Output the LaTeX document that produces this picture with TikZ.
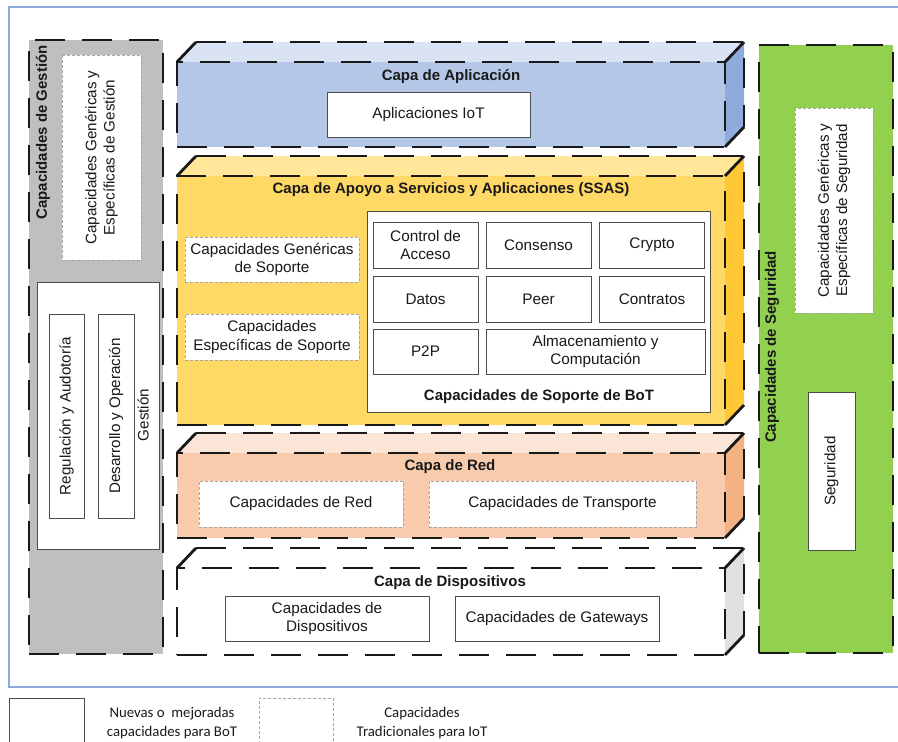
\documentclass[tikz,border=0pt]{standalone}
\usepackage{fontspec}
\setmainfont{Liberation Sans}
\newfontfamily\leyenda{Carlito}
\usetikzlibrary{backgrounds}
\definecolor{appfront}{HTML}{B4C7E7}
\definecolor{apptop}{HTML}{DAE3F3}
\definecolor{appside}{HTML}{8FAADC}
\definecolor{ssasfront}{HTML}{FFD966}
\definecolor{ssastop}{HTML}{FFE699}
\definecolor{ssasside}{HTML}{FFC935}
\definecolor{redfront}{HTML}{F8CBAD}
\definecolor{redtop}{HTML}{FBE5D6}
\definecolor{redside}{HTML}{F4B183}
\definecolor{dispside}{HTML}{E0E0E0}
\definecolor{gris}{HTML}{BFBFBF}
\definecolor{verde}{HTML}{92D050}
\definecolor{marcoazul}{HTML}{8EA9DB}
\tikzset{
    capa/.style={
        draw=black!90,
        line width=2.8pt,
        dash pattern=on 30pt off 17pt,
        outer sep=0pt},
    arista/.style={
        draw=black!90,
        line width=2.8pt},
    atras/.style={shift={(19,-20)}},
    caja/.style={
        draw=black!70,
        line width=0.9pt,
        fill=white,
        align=center,
        inner sep=2pt,
        text=black!90,
        font=\fontsize{15.3}{18.5}\selectfont},
    cajatrad/.style={
        caja,
        draw=black!35,
        line width=0.8pt,
        dash pattern=on 3pt off 2pt},
    textov/.style={
        rotate=90,
        align=center,
        text=black!90,
        font=\fontsize{15.2}{18.3}\selectfont},
    titulo/.style={
        text=black!90,
        font=\fontsize{15}{18}\selectfont\bfseries},
    leyendatxt/.style={
        align=center,
        text=black!90,
        font=\leyenda\fontsize{14.8}{18.5}\selectfont},
    marco/.style={
        draw=marcoazul,
        line width=1.2pt}}

\begin{document}
\begin{tikzpicture}[x=1pt, y=-1pt]
    \useasboundingbox (0,0) rectangle (898,742);
    \node[marco, minimum width=910pt, minimum height=680pt] (marco) at (464,347) {};

    % columna de gestion
    \node[capa, fill=gris, minimum width=134pt, minimum height=614pt] (gestion) at (96,347) {};
    \node[titulo, rotate=90, anchor=east, inner sep=0pt] (tgestion) at (43,45) {Capacidades de Gestión};
    \node[cajatrad, textov, minimum width=205pt, minimum height=79pt] (gengestion) at (101.5,157.5) {Capacidades Genéricas y\\Específicas de Gestión};
    \node[caja, minimum width=122pt, minimum height=267pt] (opgestion) at (98,415.5) {};
    \node[caja, textov, minimum width=204pt, minimum height=35pt] (regulacion) at (66.5,416) {Regulación y Audotoría};
    \node[caja, textov, minimum width=204pt, minimum height=36pt] (desarrollo) at (116,416) {Desarrollo y Operación};
    \node[textov] (tgestion2) at (143,415) {Gestión};

    % capa de aplicacion
    \node[capa, fill=appfront, minimum width=548pt, minimum height=85pt] (aplicacion) at (451,104.5) {};
    \begin{scope}[on background layer]
        \fill[apptop] (aplicacion.north west) -- ([atras]aplicacion.north west) -- ([atras]aplicacion.north east) -- (aplicacion.north east) -- cycle;
        \fill[appside] (aplicacion.north east) -- ([atras]aplicacion.north east) -- ([atras]aplicacion.south east) -- (aplicacion.south east) -- cycle;
    \end{scope}
    \draw[capa] ([atras]aplicacion.north west) -- ([atras]aplicacion.north east) -- ([atras]aplicacion.south east);
    \draw[arista] (aplicacion.north west) -- ([atras]aplicacion.north west) (aplicacion.north east) -- ([atras]aplicacion.north east) (aplicacion.south east) -- ([atras]aplicacion.south east);
    \node[titulo] (taplicacion) at (451,77) {Capa de Aplicación};
    \node[caja, minimum width=203pt, minimum height=45pt] (apps) at (428.5,114.5) {Aplicaciones IoT};

    % capa SSAS
    \node[capa, fill=ssasfront, minimum width=548pt, minimum height=249pt] (apoyo) at (451,300.5) {};
    \begin{scope}[on background layer]
        \fill[ssastop] (apoyo.north west) -- ([atras]apoyo.north west) -- ([atras]apoyo.north east) -- (apoyo.north east) -- cycle;
        \fill[ssasside] (apoyo.north east) -- ([atras]apoyo.north east) -- ([atras]apoyo.south east) -- (apoyo.south east) -- cycle;
    \end{scope}
    \draw[capa] ([atras]apoyo.north west) -- ([atras]apoyo.north east) -- ([atras]apoyo.south east);
    \draw[arista] (apoyo.north west) -- ([atras]apoyo.north west) (apoyo.north east) -- ([atras]apoyo.north east) (apoyo.south east) -- ([atras]apoyo.south east);
    \node[titulo] (tapoyo) at (451,190) {Capa de Apoyo a Servicios y Aplicaciones (SSAS)};
    \node[cajatrad, minimum width=174pt, minimum height=45pt] (gensoporte) at (272,259.5) {Capacidades Genéricas\\de Soporte};
    \node[cajatrad, minimum width=174pt, minimum height=46pt] (espsoporte) at (272,337) {Capacidades\\Específicas de Soporte};
    \node[caja, minimum width=343pt, minimum height=201pt] (bot) at (538.5,311.5) {};
    \node[caja, minimum width=105pt, minimum height=46pt] (acceso) at (425.5,245) {Control de\\Acceso};
    \node[caja, minimum width=105pt, minimum height=46pt] (consenso) at (538.5,245) {Consenso};
    \node[caja, minimum width=105pt, minimum height=46pt] (crypto) at (652,245) {Crypto};
    \node[caja, minimum width=105pt, minimum height=46pt] (datos) at (425.5,299) {Datos};
    \node[caja, minimum width=105pt, minimum height=46pt] (peer) at (538.5,299) {Peer};
    \node[caja, minimum width=105pt, minimum height=46pt] (contratos) at (652,299) {Contratos};
    \node[caja, minimum width=105pt, minimum height=45pt] (p2p) at (425.5,351.5) {P2P};
    \node[caja, minimum width=219pt, minimum height=45pt] (almacen) at (595.5,351.5) {Almacenamiento y\\Computación};
    \node[titulo] (tbot) at (539,397) {Capacidades de Soporte de BoT};

    % capa de red
    \node[capa, fill=redfront, minimum width=548pt, minimum height=85pt] (capared) at (451,495.5) {};
    \begin{scope}[on background layer]
        \fill[redtop] (capared.north west) -- ([atras]capared.north west) -- ([atras]capared.north east) -- (capared.north east) -- cycle;
        \fill[redside] (capared.north east) -- ([atras]capared.north east) -- ([atras]capared.south east) -- (capared.south east) -- cycle;
    \end{scope}
    \draw[capa] ([atras]capared.north west) -- ([atras]capared.north east) -- ([atras]capared.south east);
    \draw[arista] (capared.north west) -- ([atras]capared.north west) (capared.north east) -- ([atras]capared.north east) (capared.south east) -- ([atras]capared.south east);
    \node[titulo] (tred) at (450,467) {Capa de Red};
    \node[cajatrad, minimum width=204pt, minimum height=46pt] (capred) at (301,504) {Capacidades de Red};
    \node[cajatrad, minimum width=267pt, minimum height=46pt] (transporte) at (562.5,504) {Capacidades de Transporte};

    % capa de dispositivos
    \node[capa, fill=white, minimum width=548pt, minimum height=87pt] (dispositivos) at (451,611.5) {};
    \begin{scope}[on background layer]
        \fill[white] (dispositivos.north west) -- ([atras]dispositivos.north west) -- ([atras]dispositivos.north east) -- (dispositivos.north east) -- cycle;
        \fill[dispside] (dispositivos.north east) -- ([atras]dispositivos.north east) -- ([atras]dispositivos.south east) -- (dispositivos.south east) -- cycle;
    \end{scope}
    \draw[capa] ([atras]dispositivos.north west) -- ([atras]dispositivos.north east) -- ([atras]dispositivos.south east);
    \draw[arista] (dispositivos.north west) -- ([atras]dispositivos.north west) (dispositivos.north east) -- ([atras]dispositivos.north east) (dispositivos.south east) -- ([atras]dispositivos.south east);
    \node[titulo] (tdispositivos) at (450,583) {Capa de Dispositivos};
    \node[caja, minimum width=204pt, minimum height=45pt] (capdisp) at (327,618.5) {Capacidades de\\Dispositivos};
    \node[caja, minimum width=204pt, minimum height=45pt] (gateways) at (557,618.5) {Capacidades de Gateways};

    % columna de seguridad
    \node[capa, fill=verde, minimum width=134pt, minimum height=608pt] (seguridad) at (826,349) {};
    \node[titulo, rotate=90] (tseguridad) at (772,347) {Capacidades de Seguridad};
    \node[cajatrad, textov, minimum width=205pt, minimum height=78pt] (genseg) at (834,210.5) {Capacidades Genéricas y\\Específicas de Seguridad};
    \node[caja, textov, minimum width=158pt, minimum height=47pt] (seg) at (831.5,471) {Seguridad};

    % leyenda
    \node[caja, minimum width=75pt, minimum height=54pt] (leynueva) at (46.5,725) {};
    \node[leyendatxt] (tnueva) at (172,723) {Nuevas o\ \ mejoradas\\capacidades para BoT};
    \node[cajatrad, minimum width=74pt, minimum height=54pt] (leytrad) at (296,725) {};
    \node[leyendatxt] (ttrad) at (422,723) {Capacidades\\Tradicionales para IoT};
\end{tikzpicture}
\end{document}
